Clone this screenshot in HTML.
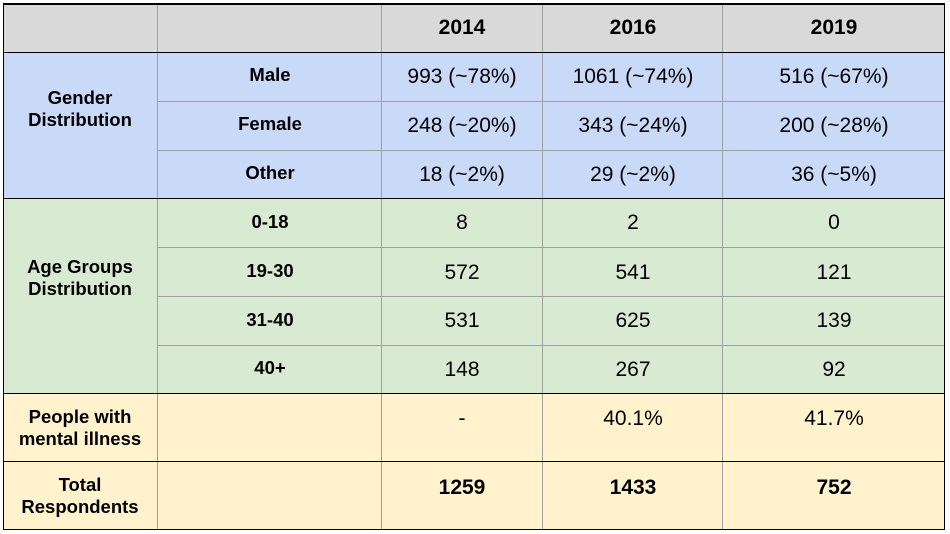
<!DOCTYPE html>
<html><head><meta charset="utf-8"><style>
body{margin:0;width:950px;height:534px;background:#fff;position:relative;overflow:hidden;font-family:"Liberation Sans",Arial,sans-serif;color:#000}
.bg,.ln,.t{position:absolute}
.t{transform:translate(-50%,-50%);white-space:nowrap;text-align:center;line-height:22px}
.b{font-weight:bold;font-size:18.5px}
.v{font-size:21px}
.h{font-weight:bold;font-size:21px}
</style></head><body>
<div class="bg" style="left:3px;top:3px;width:942px;height:50px;background:#d9d9d9"></div>
<div class="bg" style="left:3px;top:53px;width:942px;height:146px;background:#c9daf8"></div>
<div class="bg" style="left:3px;top:199px;width:942px;height:195px;background:#d9ead3"></div>
<div class="bg" style="left:3px;top:394px;width:942px;height:136px;background:#fff2cc"></div>

<!-- gray inner lines -->
<div class="ln" style="left:158px;top:101px;width:787px;height:1px;background:#a0a0a0"></div>
<div class="ln" style="left:158px;top:150px;width:787px;height:1px;background:#a0a0a0"></div>
<div class="ln" style="left:158px;top:247px;width:787px;height:1px;background:#a0a0a0"></div>
<div class="ln" style="left:158px;top:296px;width:787px;height:1px;background:#a0a0a0"></div>
<div class="ln" style="left:158px;top:345px;width:787px;height:1px;background:#a0a0a0"></div>
<div class="ln" style="left:157px;top:3px;width:1px;height:527px;background:#a0a0a0"></div>
<div class="ln" style="left:381px;top:3px;width:1px;height:527px;background:#a0a0a0"></div>
<div class="ln" style="left:542px;top:3px;width:1px;height:527px;background:#a0a0a0"></div>
<div class="ln" style="left:722px;top:3px;width:1px;height:527px;background:#a0a0a0"></div>
<!-- black lines -->
<div class="ln" style="left:3px;top:3px;width:942px;height:2px;background:#000"></div>
<div class="ln" style="left:3px;top:52px;width:942px;height:1px;background:#000"></div>
<div class="ln" style="left:3px;top:198px;width:942px;height:1px;background:#000"></div>
<div class="ln" style="left:3px;top:393px;width:942px;height:1px;background:#000"></div>
<div class="ln" style="left:3px;top:461px;width:942px;height:1px;background:#000"></div>
<div class="ln" style="left:3px;top:529px;width:942px;height:1px;background:#000"></div>
<div class="ln" style="left:3px;top:3px;width:1px;height:527px;background:#000"></div>
<div class="ln" style="left:944px;top:3px;width:1px;height:527px;background:#000"></div>

<div class="t h" style="left:462px;top:28px">2014</div>
<div class="t h" style="left:633px;top:28px">2016</div>
<div class="t h" style="left:834px;top:28px">2019</div>

<div class="t b" style="left:80px;top:109px">Gender<br>Distribution</div>
<div class="t b" style="left:80px;top:278px">Age Groups<br>Distribution</div>
<div class="t b" style="left:80px;top:428px">People with<br>mental illness</div>
<div class="t b" style="left:80px;top:496px">Total<br>Respondents</div>

<div class="t b" style="left:270px;top:75px">Male</div>
<div class="t b" style="left:270px;top:124px">Female</div>
<div class="t b" style="left:270px;top:173px">Other</div>
<div class="t b" style="left:270px;top:222px">0-18</div>
<div class="t b" style="left:270px;top:271px">19-30</div>
<div class="t b" style="left:270px;top:320px">31-40</div>
<div class="t b" style="left:270px;top:368px">40+</div>

<div class="t v" style="left:462px;top:77px">993 (~78%)</div>
<div class="t v" style="left:633px;top:77px">1061 (~74%)</div>
<div class="t v" style="left:834px;top:77px">516 (~67%)</div>
<div class="t v" style="left:462px;top:126px">248 (~20%)</div>
<div class="t v" style="left:633px;top:126px">343 (~24%)</div>
<div class="t v" style="left:834px;top:126px">200 (~28%)</div>
<div class="t v" style="left:462px;top:175px">18 (~2%)</div>
<div class="t v" style="left:633px;top:175px">29 (~2%)</div>
<div class="t v" style="left:834px;top:175px">36 (~5%)</div>
<div class="t v" style="left:462px;top:223px">8</div>
<div class="t v" style="left:633px;top:223px">2</div>
<div class="t v" style="left:834px;top:223px">0</div>
<div class="t v" style="left:462px;top:273px">572</div>
<div class="t v" style="left:633px;top:273px">541</div>
<div class="t v" style="left:834px;top:273px">121</div>
<div class="t v" style="left:462px;top:321px">531</div>
<div class="t v" style="left:633px;top:321px">625</div>
<div class="t v" style="left:834px;top:321px">139</div>
<div class="t v" style="left:462px;top:370px">148</div>
<div class="t v" style="left:633px;top:370px">267</div>
<div class="t v" style="left:834px;top:370px">92</div>
<div class="t v" style="left:462px;top:419px">-</div>
<div class="t v" style="left:633px;top:419px">40.1%</div>
<div class="t v" style="left:834px;top:419px">41.7%</div>
<div class="t h" style="left:462px;top:488px">1259</div>
<div class="t h" style="left:633px;top:488px">1433</div>
<div class="t h" style="left:834px;top:488px">752</div>
</body></html>
